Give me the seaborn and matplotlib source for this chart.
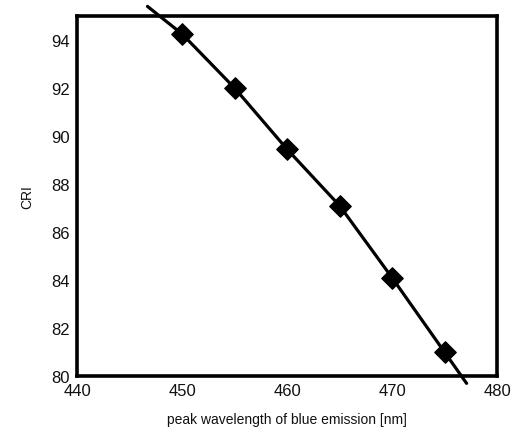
import matplotlib
matplotlib.use("Agg")
import matplotlib.pyplot as plt
import seaborn as sns
import pandas as pd

# measured points
wavelength = [450, 455, 460, 465, 470, 475]
cri = [94.25, 92.0, 89.45, 87.1, 84.1, 81.0]

# the fitted line runs a bit past the first and last point
line_x = [446.7, 450, 455, 460, 465, 470, 475, 477.1]
line_y = [95.4, 94.25, 92.0, 89.45, 87.1, 84.1, 81.0, 79.7]

df = pd.DataFrame({"wl": wavelength, "cri": cri})
df_line = pd.DataFrame({"wl": line_x, "cri": line_y})

sns.set_style("white")
plt.rcParams['font.family'] = ['Liberation Sans', 'DejaVu Sans']

fig = plt.figure(figsize=(5.14, 4.35), dpi=100)
ax = fig.add_axes([0.150, 0.133, 0.817, 0.828])

sns.lineplot(data=df_line, x="wl", y="cri", ax=ax, color="black",
             linewidth=2.3, clip_on=False, zorder=3)
sns.scatterplot(data=df, x="wl", y="cri", ax=ax, marker="D", s=120,
                color="black", edgecolor="black", zorder=4, clip_on=False)

ax.set_xlim(440, 480)
ax.set_ylim(80, 95)
ax.set_xticks([440, 450, 460, 470, 480])
ax.set_yticks([80, 82, 84, 86, 88, 90, 92, 94])
ax.tick_params(direction="in", length=4, width=0.8, color="#aaaaaa",
               labelsize=12, labelcolor="#111111", pad=5)
for s in ax.spines.values():
    s.set_color("black")
    s.set_linewidth(2.6)
    s.set_zorder(2)

ax.set_xlabel("peak wavelength of blue emission [nm]", fontsize=10,
              labelpad=10, color="#111111")
ax.set_ylabel("CRI", fontsize=10, labelpad=12, color="#111111")

fig.savefig("out.png", dpi=100)
